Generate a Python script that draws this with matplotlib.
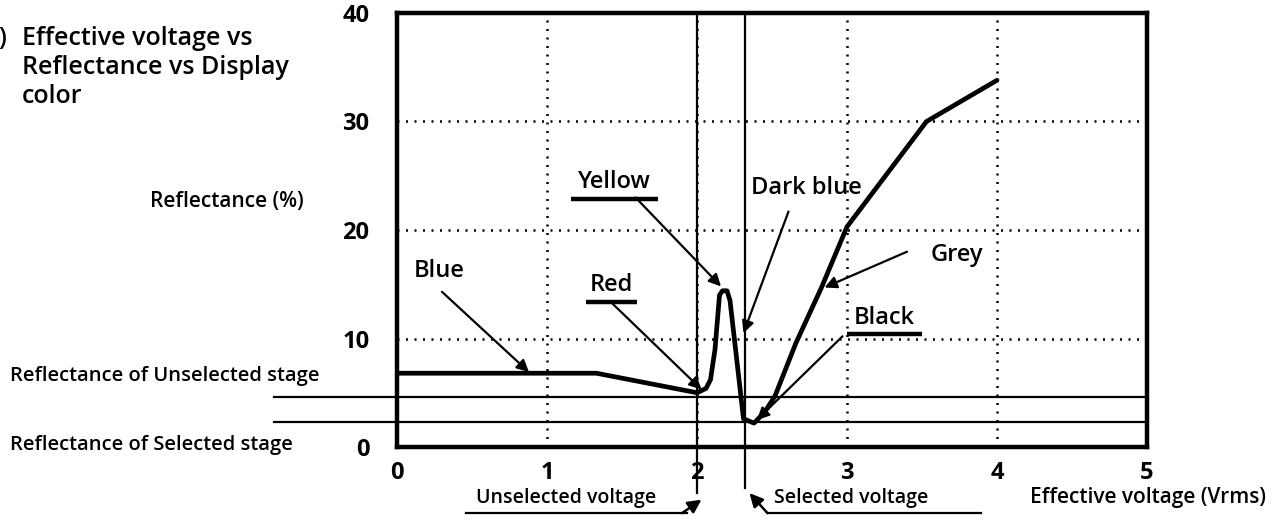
import matplotlib
matplotlib.use("Agg")
import matplotlib.pyplot as plt

plt.rcParams['font.family'] = ['Open Sans', 'DejaVu Sans']
plt.rcParams['font.weight'] = 'semibold'

# reflectance curve
voltage = [0.0, 1.33, 2.0, 2.06, 2.09, 2.12, 2.15, 2.17, 2.2, 2.22, 2.31,
           2.38, 2.45, 2.52, 2.66, 2.83, 3.0, 3.53, 4.0]
reflectance = [6.8, 6.8, 5.0, 5.4, 6.2, 9.0, 14.0, 14.4, 14.4, 13.5, 2.6,
               2.2, 3.2, 4.7, 9.6, 14.7, 20.3, 30.0, 33.8]

x_ticks = [0, 1, 2, 3, 4, 5]
y_ticks = [0, 10, 20, 30, 40]
grid_x = [1, 2, 3, 4]
grid_y = [10, 20, 30]

stage_levels = [4.6, 2.3]          # unselected, selected reflectance
stage_names = ['Reflectance of Unselected stage', 'Reflectance of Selected stage']
drive_voltages = [2.0, 2.32]       # unselected, selected voltage

# color labels: name, text pos, arrow start, arrow tip, underlined
colors = ['Blue', 'Red', 'Yellow', 'Dark blue', 'Grey', 'Black']
label_pos = [(0.28, 16.2), (1.43, 14.9), (1.45, 24.4), (2.73, 23.9), (3.73, 17.7), (3.25, 11.9)]
arrow_from = [(0.30, 14.3), (1.43, 13.3), (1.59, 23.0), (2.61, 21.7), (3.40, 18.0), (2.97, 10.2)]
arrow_to = [(0.88, 6.9), (2.03, 5.3), (2.16, 14.8), (2.31, 10.5), (2.85, 14.7), (2.40, 2.5)]
underlined = [False, True, True, False, False, True]

fig = plt.figure(figsize=(12.81, 5.21), dpi=100)
ax = fig.add_axes([397 / 1281, 74 / 521, 750 / 1281, 434 / 521])
ax.set_xlim(0, 5)
ax.set_ylim(0, 40)

for s in ax.spines.values():
    s.set_linewidth(3.2)

for gx in grid_x:
    ax.axvline(gx, color='black', lw=1.8, ls=(0, (0.8, 2.6)), zorder=1)
for gy in grid_y:
    ax.axhline(gy, color='black', lw=1.8, ls=(0, (0.8, 2.6)), zorder=1)

# stage reflectance lines, reaching out to the left labels
for lvl in stage_levels:
    ax.plot([-0.82, 5], [lvl, lvl], color='black', lw=1.6, clip_on=False, zorder=2)
# drive voltage lines, reaching below the axis
ax.plot([drive_voltages[0]] * 2, [40, -4.2], color='black', lw=1.6, clip_on=False, zorder=2)
ax.plot([drive_voltages[1]] * 2, [40, -3.8], color='black', lw=1.6, clip_on=False, zorder=2)

ax.plot(voltage, reflectance, color='black', lw=3.4, solid_joinstyle='round',
        solid_capstyle='round', zorder=3)

ax.set_xticks(x_ticks)
ax.set_yticks(y_ticks)
ax.set_xticklabels([str(v) for v in x_ticks], fontsize=17, fontweight='bold')
ax.set_yticklabels([str(v) for v in y_ticks], fontsize=17, fontweight='bold')
ax.tick_params(axis='both', length=0)
ax.tick_params(axis='y', pad=20)
ax.tick_params(axis='x', pad=10)

for name, pos, a0, a1, ul in zip(colors, label_pos, arrow_from, arrow_to, underlined):
    ax.text(pos[0], pos[1], name, fontsize=17, ha='center', va='center')
    ax.annotate('', xy=a1, xytext=a0,
                arrowprops=dict(arrowstyle='-|>', color='black', lw=1.6,
                                mutation_scale=18, shrinkA=0, shrinkB=0))
    if ul:
        w = len(name) * 0.08 + 0.04
        ax.plot([pos[0] - w / 2 - 0.03, pos[0] + w / 2 + 0.03], [pos[1] - 1.5] * 2,
                color='black', lw=3.2, solid_capstyle='butt')

# bottom voltage labels
ax.text(1.13, -4.7, 'Unselected voltage', fontsize=14, ha='center', va='center')
ax.plot([0.46, 1.93], [-6.1, -6.1], color='black', lw=1.6, clip_on=False)
ax.annotate('', xy=(2.03, -4.85), xytext=(1.9, -6.1), annotation_clip=False,
            arrowprops=dict(arrowstyle='-|>', color='black', lw=1.8,
                            mutation_scale=20, shrinkA=0, shrinkB=0))
ax.text(2.51, -4.7, 'Selected voltage', fontsize=14, ha='left', va='center')
ax.plot([2.47, 3.89], [-6.1, -6.1], color='black', lw=1.6, clip_on=False)
ax.annotate('', xy=(2.35, -4.25), xytext=(2.47, -6.1), annotation_clip=False,
            arrowprops=dict(arrowstyle='-|>', color='black', lw=1.8,
                            mutation_scale=20, shrinkA=0, shrinkB=0))
ax.text(5.01, -4.7, 'Effective voltage (Vrms)', fontsize=15, ha='center', va='center')

# left side texts
fig.text(22 / 1281, 1 - 26 / 521, 'Effective voltage vs\nReflectance vs Display\ncolor',
         fontsize=18, ha='left', va='top', linespacing=1.2)
fig.text(-2 / 1281, 1 - 26 / 521, ')', fontsize=18, ha='left', va='top')
fig.text(150 / 1281, 1 - 202 / 521, 'Reflectance (%)', fontsize=15, ha='left', va='center')
for name, lvl_y in zip(stage_names, [376, 445]):
    fig.text(10 / 1281, 1 - lvl_y / 521, name, fontsize=14.5, ha='left', va='center')

fig.savefig('out.png', dpi=100)
